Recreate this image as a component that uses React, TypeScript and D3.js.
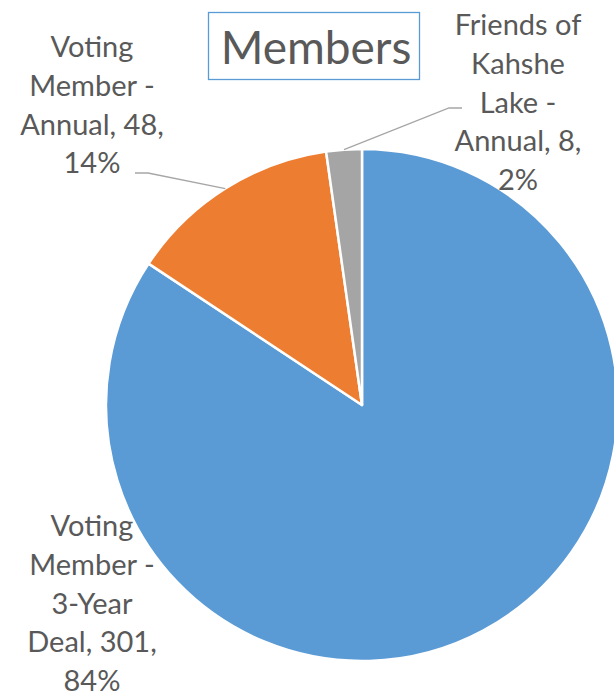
import React from 'react';
import * as d3 from 'd3';

const categories = ['Voting Member - 3-Year Deal', 'Voting Member - Annual', 'Friends of Kahshe Lake - Annual'];
const values = [301, 48, 8];
const colors = ['#5B9BD5', '#ED7D31', '#A5A5A5'];
const labelLines = [
  ['Voting', 'Member -', '3-Year', 'Deal, 301,', '84%'],
  ['Voting', 'Member -', 'Annual, 48,', '14%'],
  ['Friends of', 'Kahshe', 'Lake -', 'Annual, 8,', '2%'],
];

// label placement (center x, first line y) and leader elbow, null = no leader
const labelPos = [
  { x: 92, y: 536, elbow: null },
  { x: 92, y: 57, elbow: [135, 173] },
  { x: 518, y: 35, elbow: [462, 108] },
];

const W = 614, H = 696;
const cx = 362, cy = 405, R = 256;
const lineH = 38.8;
const font = "Lato, 'Open Sans', sans-serif";

export default function App() {
  const pie = d3.pie<number>().sort(null).value(d => d);
  const arcs = pie(values);
  const arc = d3.arc<d3.PieArcDatum<number>>().innerRadius(0).outerRadius(R);

  return (
    <svg width={W} height={H} style={{ position: 'absolute', left: 0, top: 0, background: '#fff' }}>
      <g transform={`translate(${cx},${cy})`}>
        {arcs.map((a, i) => (
          <path key={i} d={arc(a) || ''} fill={colors[i]} stroke="#fff" strokeWidth={2.5} strokeLinejoin="round" />
        ))}
      </g>
      {arcs.map((a, i) => {
        const p = labelPos[i];
        if (!p.elbow) return null;
        const mid = (a.startAngle + a.endAngle) / 2;
        const sx = cx + Math.sin(mid) * R;
        const sy = cy - Math.cos(mid) * R;
        const [ex, ey] = p.elbow;
        const hx = ex < sx ? ex + 13 : ex - 13;
        return (
          <polyline key={i} points={`${sx},${sy} ${hx},${ey} ${ex},${ey}`} fill="none" stroke="#A6A6A6" strokeWidth={1.3} />
        );
      })}
      {labelLines.map((lines, i) => (
        <text key={i} textAnchor="middle" fontFamily={font} fontSize={29} fill="#595959">
          {lines.map((l, j) => (
            <tspan key={j} x={labelPos[i].x} y={labelPos[i].y + j * lineH}>{l}</tspan>
          ))}
        </text>
      ))}
      <rect x={208.5} y={12.5} width={211} height={67} fill="#fff" stroke="#5B9BD5" strokeWidth={1.3} />
      <text x={316} y={64} textAnchor="middle" fontFamily={font} fontSize={46} fill="#595959">Members</text>
    </svg>
  );
}
